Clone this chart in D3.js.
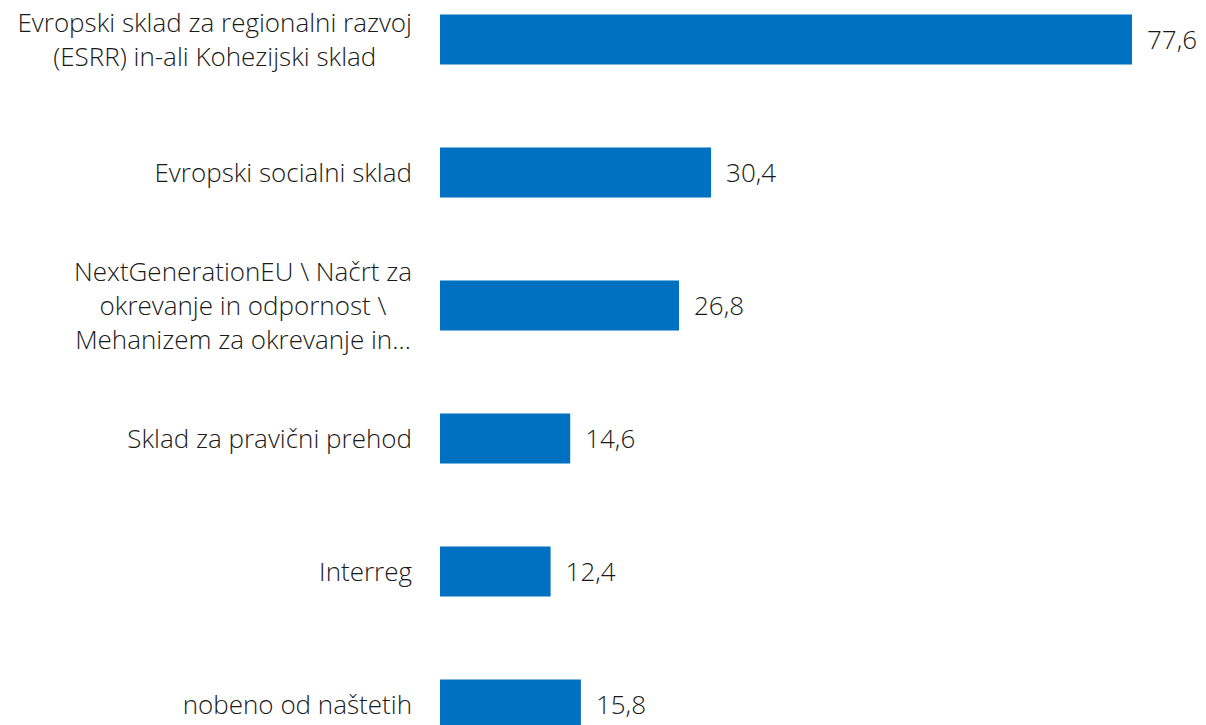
<!DOCTYPE html>
<html>
<head>
<meta charset="utf-8">
<script src="https://cdn.jsdelivr.net/npm/d3@7"></script>
<style>
  body { margin: 0; background: #fff; }
  svg text { font-family: "Open Sans", sans-serif; font-weight: 300; fill: #1a1a1a; }
</style>
</head>
<body>
<div id="chart"></div>
<script>
const categories = [
  ["Evropski sklad za regionalni razvoj", "(ESRR) in-ali Kohezijski sklad"],
  ["Evropski socialni sklad"],
  ["NextGenerationEU \\ Načrt za", "okrevanje in odpornost \\", "Mehanizem za okrevanje in…"],
  ["Sklad za pravični prehod"],
  ["Interreg"],
  ["nobeno od naštetih"]
];
const values = [77.6, 30.4, 26.8, 14.6, 12.4, 15.8];

const width = 1206, height = 725;
const left = 440;
const labelRight = 412;

const svg = d3.select('#chart')
  .append('svg')
  .attr('width', width)
  .attr('height', height);

const x = d3.scaleLinear()
  .domain([0, 77.6])
  .range([left, 1132]);

const y = d3.scaleBand()
  .domain(d3.range(values.length))
  .range([-27, 771])
  .paddingInner(0.624)
  .paddingOuter(0.312);

svg.selectAll('.bar')
  .data(values)
  .enter()
    .append('rect')
    .attr('class', 'bar')
    .attr('x', x(0))
    .attr('y', (d, i) => y(i))
    .attr('width', d => x(d) - x(0))
    .attr('height', y.bandwidth())
    .attr('fill', '#0070c0');

const fmt = d => d.toFixed(1).replace('.', ',');

svg.selectAll('.val')
  .data(values)
  .enter()
    .append('text')
    .attr('class', 'val')
    .attr('x', d => x(d) + 15)
    .attr('y', (d, i) => y(i) + y.bandwidth() / 2)
    .attr('dy', '0.35em')
    .style('font-size', '26px')
    .text(fmt);

const lineH = 34;
const labels = svg.selectAll('.lab')
  .data(categories)
  .enter()
    .append('text')
    .attr('class', 'lab')
    .attr('text-anchor', 'middle')
    .style('font-size', '26px');

// multi-line labels: lines centred on each other, block right-aligned
labels.each(function(lines, i) {
  const el = d3.select(this);
  const cy = y(i) + y.bandwidth() / 2;
  const spans = lines.map((t, j) => el.append('tspan')
    .attr('y', cy + (j - (lines.length - 1) / 2) * lineH)
    .attr('dy', '0.35em')
    .text(t));
  const maxW = d3.max(spans, s => s.node().getComputedTextLength());
  spans.forEach(s => s.attr('x', labelRight - maxW / 2));
});
</script>
</body>
</html>
